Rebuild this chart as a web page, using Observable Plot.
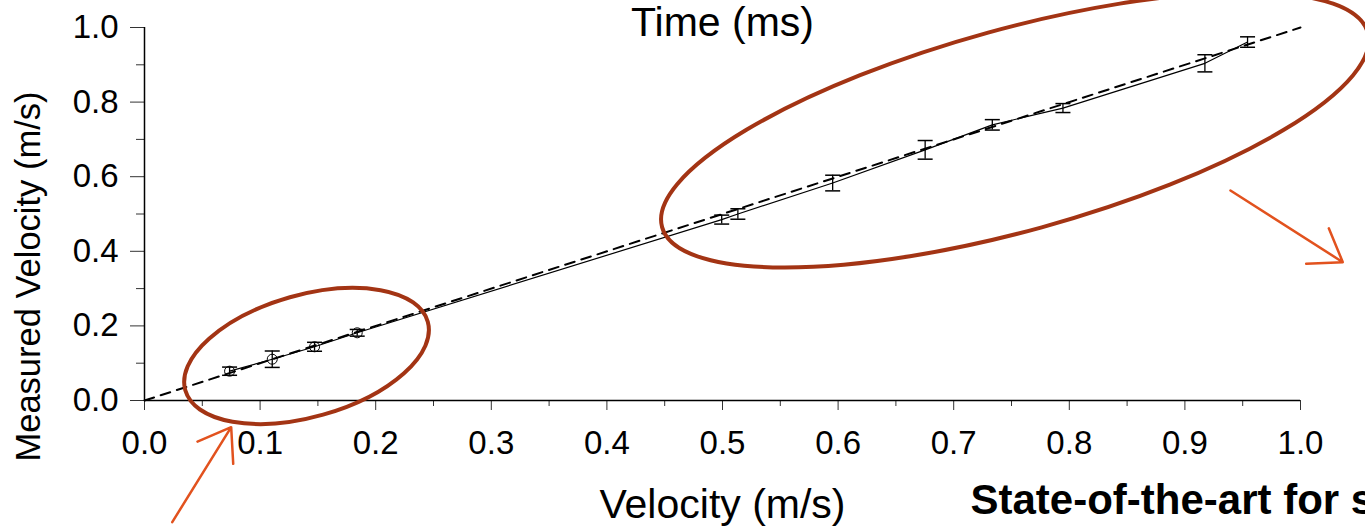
<!DOCTYPE html>
<html>
<head>
<meta charset="utf-8">
<script src="https://cdn.jsdelivr.net/npm/d3@7"></script>
<script src="https://cdn.jsdelivr.net/npm/@observablehq/plot@0.6"></script>
<style>
  html, body { margin: 0; padding: 0; background: #fff; overflow: hidden; }
  #chart svg { display: block; }
</style>
</head>
<body>
<div id="chart"></div>
<script>
// ---- data ----
const velocity = [0.0736, 0.1105, 0.1471, 0.184, 0.4993, 0.5133, 0.5953, 0.6753, 0.7334, 0.7945, 0.9173, 0.9542];
const measured = [0.0786, 0.1107, 0.144, 0.1815, 0.485, 0.500, 0.583, 0.672, 0.739, 0.784, 0.904, 0.961];
const errors   = [0.011, 0.022, 0.012, 0.009, 0.012, 0.014, 0.021, 0.025, 0.014, 0.012, 0.023, 0.014];
const circled  = [true, true, true, true, false, false, false, false, false, false, false, false];

// ideal reference line y = x
const idealX = [0, 1];
const idealY = [0, 1];

// tick labels
const xMajorTicks = [0, 0.1, 0.2, 0.3, 0.4, 0.5, 0.6, 0.7, 0.8, 0.9, 1.0];
const xMinorTicks = [0.05, 0.15, 0.25, 0.35, 0.45, 0.55, 0.65, 0.75, 0.85, 0.95];
const yMajorTicks = [0, 0.2, 0.4, 0.6, 0.8, 1.0];
const yMinorTicks = [0.1, 0.3, 0.5, 0.7, 0.9];

// texts
const xLabel = "Velocity (m/s)";
const yLabel = "Measured Velocity (m/s)";
const topText = "Time (ms)";
const cornerText = "State-of-the-art for s";

// y-axis title anchor (data units)
const yLabelX = [-0.09];
const yLabelY = [0.3324];

// annotation ellipses (centre in data units)
const ellipseCx = [0.1406, 0.7534];
const ellipseCy = [0.118, 0.724];
// annotation arrows (data units)
const arrowX1 = [0.9394, 0.024];
const arrowY1 = [0.563, -0.326];
const arrowX2 = [1.0366, 0.075];
const arrowY2 = [0.3708, -0.0716];

// ---- build tables ----
const points = velocity.map((v, i) => ({x: v, y: measured[i], e: errors[i], c: circled[i]}));
const ideal = idealX.map((x, i) => ({x, y: idealY[i]}));
const ellipseShape = [{rx: 126, ry: 61, rot: -15.8}, {rx: 366, ry: 101, rot: -15.4}];
const ellipses = ellipseCx.map((cx, i) => ({cx, cy: ellipseCy[i], ...ellipseShape[i]}));
const arrows = arrowX1.map((x1, i) => ({x1, y1: arrowY1[i], x2: arrowX2[i], y2: arrowY2[i]}));
const yTitle = [{x: yLabelX[0], y: yLabelY[0], text: yLabel}];

const capSymbol = {
  draw(context, size) {
    const w = Math.sqrt(size / Math.PI);
    context.moveTo(-w, 0);
    context.lineTo(w, 0);
  }
};

const ellipseColor = "#a33414";
const arrowColor = "#e2521e";

function ellipseMark(index, scales) {
  const g = d3.create("svg:g")
    .attr("fill", "none")
    .attr("stroke", ellipseColor)
    .attr("stroke-width", 4);
  for (const e of ellipses) {
    g.append("ellipse")
      .attr("transform", `translate(${scales.x(e.cx)},${scales.y(e.cy)}) rotate(${e.rot})`)
      .attr("rx", e.rx)
      .attr("ry", e.ry);
  }
  return g.node();
}

const chart = Plot.plot({
  width: 1365,
  height: 527,
  marginLeft: 144,
  marginRight: 65,
  marginTop: 27,
  marginBottom: 127,
  x: {domain: [0, 1], label: null},
  y: {domain: [0, 1], label: null},
  style: {fontFamily: "'Liberation Sans', Arial, sans-serif", background: "#fff", overflow: "visible", color: "#000"},
  marks: [
    // axes
    Plot.axisX(xMinorTicks, {tickSize: 6, tickFormat: () => "", stroke: "#333"}),
    Plot.axisX(xMajorTicks, {tickSize: 10, tickPadding: 20, tickFormat: d3.format(".1f"), fontSize: 33, stroke: "#333"}),
    Plot.axisY(yMinorTicks, {tickSize: 8, tickFormat: () => "", stroke: "#333"}),
    Plot.axisY(yMajorTicks, {tickSize: 14, tickPadding: 12, tickFormat: d3.format(".1f"), fontSize: 33, stroke: "#333"}),
    Plot.ruleY([0], {stroke: "#000", strokeWidth: 1.5}),
    Plot.ruleX([0], {stroke: "#000", strokeWidth: 1.5}),
    // ideal line
    Plot.line(ideal, {x: "x", y: "y", stroke: "#000", strokeWidth: 2, strokeDasharray: "10,7"}),
    // measured line
    Plot.line(points, {x: "x", y: "y", stroke: "#000", strokeWidth: 1.2}),
    // error bars
    Plot.ruleX(points, {x: "x", y1: d => d.y - d.e, y2: d => d.y + d.e, stroke: "#000", strokeWidth: 1.3}),
    Plot.dot(points, {x: "x", y: d => d.y - d.e, symbol: capSymbol, r: 7.5, stroke: "#000", strokeWidth: 1.5, fill: "none"}),
    Plot.dot(points, {x: "x", y: d => d.y + d.e, symbol: capSymbol, r: 7.5, stroke: "#000", strokeWidth: 1.5, fill: "none"}),
    Plot.dot(points.filter(d => d.c), {x: "x", y: "y", r: 5, stroke: "#000", strokeWidth: 1, fill: "none"}),
    // annotations
    ellipseMark,
    Plot.arrow(arrows, {x1: "x1", y1: "y1", x2: "x2", y2: "y2", stroke: arrowColor, strokeWidth: 2.5, headLength: 22, headAngle: 70}),
    // texts
    Plot.text([topText], {frameAnchor: "top", lineAnchor: "bottom", dy: 8, fontSize: 41, fill: "#000"}),
    Plot.text([xLabel], {frameAnchor: "bottom", lineAnchor: "bottom", dy: 117, fontSize: 41, fill: "#000"}),
    Plot.text(yTitle, {x: "x", y: "y", text: "text", lineAnchor: "bottom", rotate: -90, fontSize: 34.5, fill: "#000"}),
    Plot.text([cornerText], {frameAnchor: "bottom-left", textAnchor: "start", lineAnchor: "bottom", dx: 826, dy: 113, fontSize: 42, fontWeight: "bold", fill: "#000"})
  ]
});

document.getElementById("chart").appendChild(chart);
</script>
</body>
</html>
